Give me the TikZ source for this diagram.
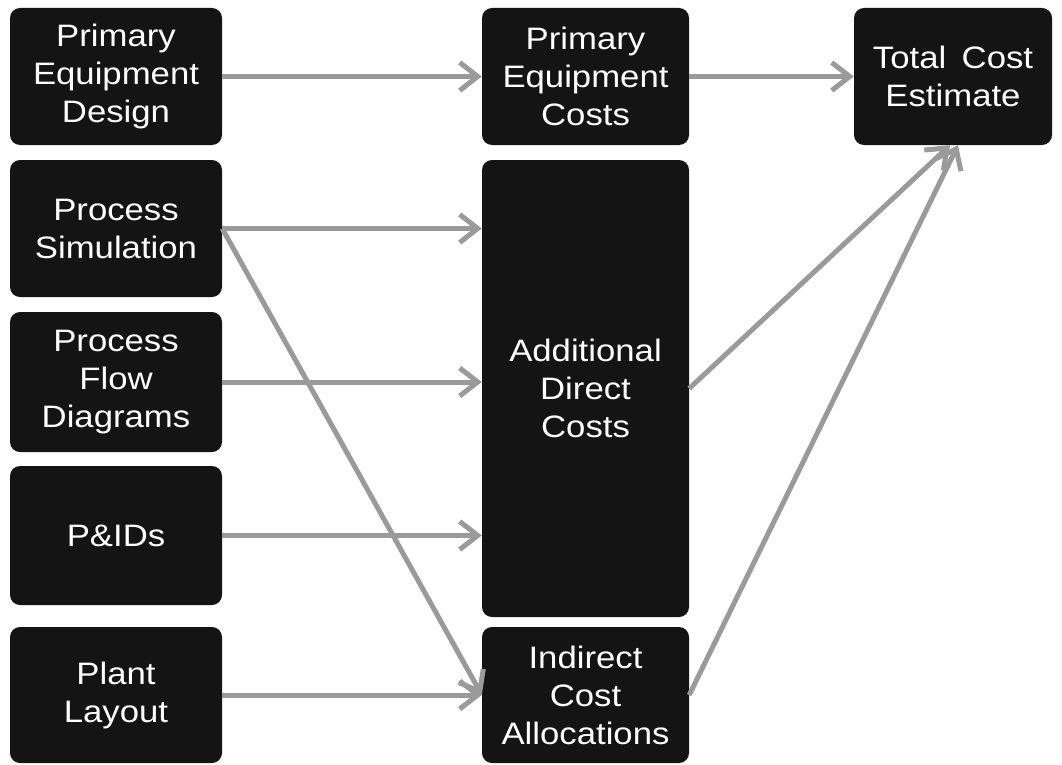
\documentclass[tikz,border=0pt]{standalone}
\usepackage{fontspec}
\setmainfont{Liberation Sans}[FakeStretch=1.12]
\usetikzlibrary{arrows.meta}
\definecolor{boxfill}{HTML}{141414}
\definecolor{arrowgray}{HTML}{9A9A9A}
\tikzset{
  box/.style={rectangle, rounded corners=10pt, fill=boxfill, text=white,
    align=center, inner sep=0pt,
    font=\fontsize{31}{38}\selectfont},
  flow/.style={draw=arrowgray, line width=5pt,
    -{Straight Barb[length=18pt,width=28pt,line width=5pt]}}
}
\begin{document}
\begin{tikzpicture}[x=1pt,y=-1pt]
\useasboundingbox (0,0) rectangle (1062,765);
% left column
\node[box, minimum width=212pt, minimum height=137pt] (ped) at (116,76.5) {Primary\\Equipment\\Design};
\node[box, minimum width=212pt, minimum height=137pt] (ps) at (116,228.5) {Process\\Simulation};
\node[box, minimum width=212pt, minimum height=140pt] (pfd) at (116,382) {Process\\Flow\\Diagrams};
\node[box, minimum width=212pt, minimum height=139pt] (pid) at (116,535.5) {P\&IDs};
\node[box, minimum width=212pt, minimum height=136pt] (pl) at (116,695) {Plant\\Layout};
% middle column
\node[box, minimum width=207pt, minimum height=137pt] (pec) at (585.5,76.5) {Primary\\Equipment\\Costs};
\node[box, minimum width=207pt, minimum height=457pt] (adc) at (585.5,388.5) {Additional\\Direct\\Costs};
\node[box, minimum width=207pt, minimum height=136pt] (ica) at (585.5,695) {Indirect\\Cost\\Allocations};
% right
\node[box, minimum width=198pt, minimum height=137pt] (tce) at (953,76.5) {Total\enspace Cost\\Estimate};
% connectors
\draw[flow] (ped.east) -- (pec.west);
\draw[flow] (pec.east) -- (tce.west);
\draw[flow] (ps.east) -- (ps.east -| adc.west);
\draw[flow] (pfd.east) -- (pfd.east -| adc.west);
\draw[flow] (pid.east) -- (pid.east -| adc.west);
\draw[flow] (ps.east) -- (ica.west);
\draw[flow] (pl.east) -- (ica.west);
\draw[flow] (adc.east) -- ([xshift=-3pt]tce.south);
\draw[flow] (ica.east) -- ([xshift=5pt]tce.south);
\end{tikzpicture}
\end{document}
